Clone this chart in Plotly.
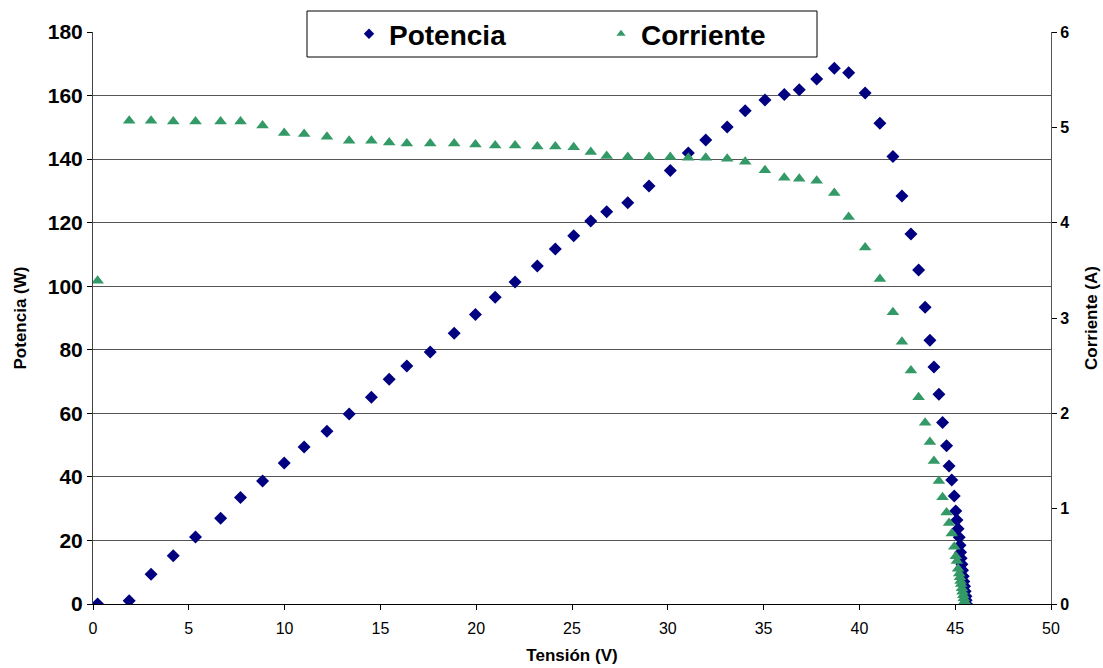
import plotly.graph_objects as go

# Tensión medida (V) en cada punto de la curva
tension = [
    0.24, 1.89, 3.03, 4.19, 5.35, 6.66, 7.70, 8.85, 9.98, 11.02,
    12.21, 13.37, 14.53, 15.46, 16.38, 17.60, 18.85, 19.96, 20.99, 22.03,
    23.19, 24.13, 25.09, 25.98, 26.81, 27.91, 29.02, 30.13, 31.07, 31.98,
    33.10, 34.04, 35.07, 36.08, 36.86, 37.77, 38.69, 39.44, 40.30, 41.07,
    41.75, 42.22, 42.69, 43.09, 43.43, 43.68, 43.89, 44.15, 44.34, 44.55,
    44.68, 44.82, 44.95, 45.03, 45.09, 45.15, 45.21, 45.25, 45.28, 45.31,
    45.35, 45.38, 45.42, 45.45, 45.49, 45.52, 45.56, 45.57, 45.59,
]

# Potencia (W)
potencia = [
    0.0, 1.0, 9.4, 15.2, 21.1, 27.0, 33.5, 38.7, 44.4, 49.4,
    54.4, 59.8, 65.1, 70.7, 74.9, 79.3, 85.2, 91.1, 96.5, 101.3,
    106.4, 111.7, 115.9, 120.5, 123.4, 126.3, 131.5, 136.4, 141.9, 146.0,
    150.1, 155.2, 158.6, 160.3, 161.8, 165.2, 168.6, 167.2, 160.8, 151.3,
    140.8, 128.4, 116.4, 105.1, 93.4, 83.0, 74.6, 66.0, 57.1, 49.8,
    43.4, 39.0, 34.0, 29.3, 26.4, 23.7, 21.0, 18.5, 16.3, 14.4,
    12.5, 10.6, 8.7, 7.1, 5.6, 4.0, 2.4, 1.2, 0.0,
]

# Corriente (A)
corriente = [
    3.39, 5.07, 5.07, 5.06, 5.06, 5.06, 5.06, 5.02, 4.94, 4.93,
    4.90, 4.86, 4.86, 4.84, 4.83, 4.83, 4.83, 4.82, 4.81, 4.81,
    4.80, 4.80, 4.79, 4.74, 4.70, 4.69, 4.69, 4.69, 4.68, 4.68,
    4.67, 4.64, 4.55, 4.47, 4.46, 4.44, 4.31, 4.06, 3.74, 3.41,
    3.06, 2.75, 2.45, 2.17, 1.90, 1.70, 1.50, 1.29, 1.12, 0.96,
    0.85, 0.74, 0.60, 0.50, 0.45, 0.37, 0.32, 0.28, 0.24, 0.21,
    0.165, 0.128, 0.091, 0.06, 0.03, 0.01, 0.0, 0.0, 0.0,
]

FONT = "Liberation Sans, Arial, sans-serif"
AZUL = "#000080"
VERDE = "#339966"

fig = go.Figure()

fig.add_trace(go.Scatter(
    x=tension, y=potencia, name="Potencia", mode="markers",
    marker=dict(symbol="diamond", size=10, color=AZUL),
    yaxis="y", showlegend=False,
))
fig.add_trace(go.Scatter(
    x=tension, y=corriente, name="Corriente", mode="markers",
    marker=dict(symbol="triangle-up", size=11, color=VERDE),
    yaxis="y2", showlegend=False,
))

# entradas de leyenda con marcadores más pequeños
fig.add_trace(go.Scatter(
    x=[None], y=[None], name="Potencia", mode="markers",
    marker=dict(symbol="diamond", size=8, color=AZUL), yaxis="y",
))
fig.add_trace(go.Scatter(
    x=[None], y=[None], name="Corriente", mode="markers",
    marker=dict(symbol="triangle-up", size=8, color=VERDE), yaxis="y2",
))

L, R, T, B = 93, 52, 32, 64
W, H = 1103, 668
pw, ph = W - L - R, H - T - B

def px_x(p):
    return (p - L) / pw

def px_y(p):
    return (H - B - p) / ph

fig.add_shape(
    type="rect", xref="paper", yref="paper",
    x0=px_x(307), x1=px_x(817), y0=px_y(57), y1=px_y(11),
    line=dict(color="black", width=1), fillcolor="white", layer="above",
)

fig.update_layout(
    width=W, height=H,
    margin=dict(l=L, r=R, t=T, b=B, autoexpand=False),
    paper_bgcolor="white", plot_bgcolor="white",
    font=dict(family=FONT, color="black"),
    legend=dict(
        orientation="h", x=px_x(349), y=px_y(9), xanchor="left", yanchor="top",
        bgcolor="rgba(0,0,0,0)", borderwidth=0,
        font=dict(family=FONT, size=28, color="black", weight="bold"),
        entrywidth=207, entrywidthmode="pixels",
    ),
    xaxis=dict(
        range=[0, 50], dtick=5, tick0=0, automargin=False,
        showgrid=False, zeroline=False,
        showline=True, linecolor="black", linewidth=1,
        ticks="outside", ticklen=5, tickcolor="black",
        ticklabelstandoff=5,
        tickfont=dict(family=FONT, size=16, color="black"),
        title=dict(text="Tensión (V)", standoff=12,
                   font=dict(family=FONT, size=17, color="black", weight="bold")),
    ),
    yaxis=dict(
        range=[0, 180], dtick=20, tick0=0, automargin=False,
        showgrid=True, gridcolor="#555555", gridwidth=1, zeroline=False,
        showline=True, linecolor="#444444", linewidth=1,
        ticks="outside", ticklen=5, tickcolor="black",
        tickfont=dict(family=FONT, size=21, color="black", weight="bold"),
        title=dict(text="Potencia (W)", standoff=16,
                   font=dict(family=FONT, size=17, color="black", weight="bold")),
    ),
    yaxis2=dict(
        range=[0, 6], dtick=1, tick0=0, automargin=False,
        overlaying="y", side="right",
        showgrid=False, zeroline=False,
        showline=True, linecolor="#555555", linewidth=1,
        ticks="outside", ticklen=5, tickcolor="black",
        tickfont=dict(family=FONT, size=16, color="black", weight="bold"),
        title=dict(text="Corriente (A)", standoff=16,
                   font=dict(family=FONT, size=17, color="black", weight="bold")),
    ),
)

fig.write_html("out.html")
